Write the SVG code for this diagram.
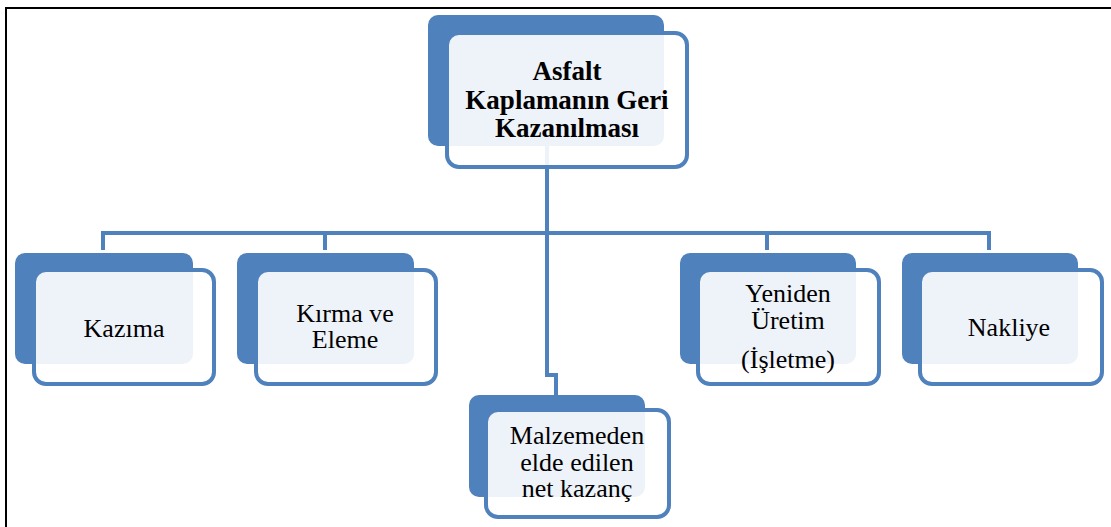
<svg xmlns="http://www.w3.org/2000/svg" width="1111" height="527" viewBox="0 0 1111 527">
<style>
.back{fill:#4F81BD}
.front{fill:#FFFFFF;fill-opacity:0.9;stroke:#4F81BD;stroke-width:4}
.conn{fill:none;stroke:#4F81BD;stroke-width:4}
.t{font-family:'Liberation Serif','Times New Roman',serif;font-size:26px;fill:#000;text-anchor:middle}
.b{font-weight:bold;font-size:27px}
.frame{stroke:#000;stroke-width:2;fill:none}
</style>
<rect x="0" y="0" width="1111" height="527" fill="#FFFFFF"/>
<path class="frame" d="M6,527 V8 H1111"/>
<g id="connectors">
<path class="conn" d="M547,146 V375 H556 V395"/>
<path class="conn" d="M103,250 V233 H989 V250"/>
<path class="conn" d="M325,233 V250"/>
<path class="conn" d="M767,233 V250"/>
</g>
<g id="node-top">
<rect class="back" x="428" y="15" width="236" height="131" rx="10"/>
<rect class="front" x="447" y="33" width="240" height="134" rx="12"/>
<text class="t b" font-family="Liberation Serif" x="567" y="80">Asfalt</text>
<text class="t b" font-family="Liberation Serif" x="567" y="109">Kaplamanın Geri</text>
<text class="t b" font-family="Liberation Serif" x="567" y="137">Kazanılması</text>
</g>
<g id="node-kazima">
<rect class="back" x="15" y="253" width="178" height="111" rx="10"/>
<rect class="front" x="34" y="270" width="180" height="114" rx="12"/>
<text class="t" font-family="Liberation Serif" x="124" y="337">Kazıma</text>
</g>
<g id="node-kirma">
<rect class="back" x="237" y="253" width="177" height="111" rx="10"/>
<rect class="front" x="256" y="270" width="180" height="114" rx="12"/>
<text class="t" font-family="Liberation Serif" x="345" y="322">Kırma ve</text>
<text class="t" font-family="Liberation Serif" x="345" y="348">Eleme</text>
</g>
<g id="node-malzeme">
<rect class="back" x="469" y="395" width="176" height="102" rx="10"/>
<rect class="front" x="486" y="410" width="183" height="107" rx="12"/>
<text class="t" font-family="Liberation Serif" x="577" y="444">Malzemeden</text>
<text class="t" font-family="Liberation Serif" x="577" y="471">elde edilen</text>
<text class="t" font-family="Liberation Serif" x="577" y="497">net kazanç</text>
</g>
<g id="node-yeniden">
<rect class="back" x="680" y="253" width="176" height="111" rx="10"/>
<rect class="front" x="698" y="270" width="181" height="114" rx="12"/>
<text class="t" font-family="Liberation Serif" x="788" y="302">Yeniden</text>
<text class="t" font-family="Liberation Serif" x="788" y="329">Üretim</text>
<text class="t" font-family="Liberation Serif" x="788" y="368">(İşletme)</text>
</g>
<g id="node-nakliye">
<rect class="back" x="902" y="253" width="176" height="111" rx="10"/>
<rect class="front" x="920" y="270" width="182" height="114" rx="12"/>
<text class="t" font-family="Liberation Serif" x="1009" y="336">Nakliye</text>
</g>
</svg>
